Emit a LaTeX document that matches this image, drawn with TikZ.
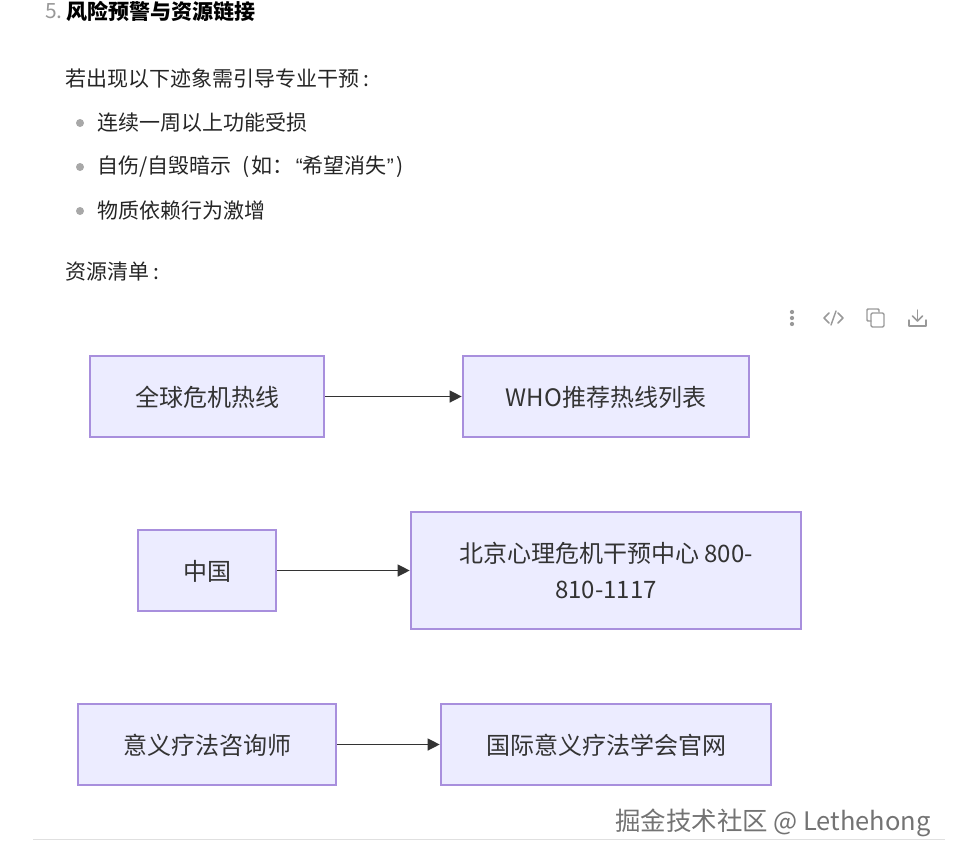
\documentclass[tikz,border=0pt]{standalone}
\usepackage{fontspec}
\usepackage{xcolor}
\usetikzlibrary{arrows.meta}
\setmainfont{Noto Sans CJK SC}
\newfontfamily\quotefont{Liberation Sans}
\newcommand{\boxtext}[1]{\raisebox{-7.2pt}[0pt][0pt]{#1}}
\definecolor{boxfill}{HTML}{ECECFF}
\definecolor{boxline}{HTML}{A88FDD}
\definecolor{arrowgray}{HTML}{333333}
\definecolor{bodygray}{HTML}{252525}
\definecolor{icongray}{HTML}{999999}
\tikzset{
    flowbox/.style={rectangle, draw=boxline, fill=boxfill, line width=1.5pt, inner sep=0pt, align=center, text=arrowgray, font=\fontsize{18}{27}\selectfont},
    flowarrow/.style={-{Triangle[length=9pt,width=9pt]}, draw=arrowgray, line width=1pt},
    bodytext/.style={anchor=west, inner sep=0pt, text=bodygray, font=\fontsize{15.75}{20}\selectfont},
    bulletdot/.style={circle, fill=icongray!85, inner sep=0pt, minimum size=6pt},
    iconline/.style={draw=icongray, line width=1.1pt, line cap=round, line join=round}
}
\begin{document}
\begin{tikzpicture}[x=0.75pt, y=-0.75pt]
    \useasboundingbox (0, 0) rectangle (953, 861);

    \node[bodytext, text=icongray] (num5) at (45, 11) {5.};
    \node[bodytext, font=\fontsize{15.75}{20}\selectfont\bfseries, text=black] (heading) at (66, 11) {风险预警与资源链接};
    \node[bodytext] (intro) at (65, 79) {若出现以下迹象需引导专业干预\hspace{3pt}:};
    \node[bulletdot] (dot1) at (80, 123) {};
    \node[bodytext] (item1) at (97, 123) {连续一周以上功能受损};
    \node[bulletdot] (dot2) at (80, 167) {};
    \node[bodytext] (item2) at (97, 167) {自伤/自毁暗示\hspace{8.5pt}(\hspace{1pt}如\char"FF1A\hspace{2pt}{\quotefont “}希望消失{\quotefont ”}\hspace{2pt})};
    \node[bulletdot] (dot3) at (80, 211) {};
    \node[bodytext] (item3) at (97, 211) {物质依赖行为激增};
    \node[bodytext] (listing) at (65, 272) {资源清单\hspace{3pt}:};

    % toolbar icons
    \foreach \y in {312, 318, 324}
        \fill[icongray] (792, \y) circle (1.6pt);
    \draw[iconline] (829, 313) -- (824, 318) -- (829, 323);
    \draw[iconline] (838, 313) -- (843, 318) -- (838, 323);
    \draw[iconline] (836, 311) -- (831, 325);
    \draw[iconline] (871, 321) -- (868, 321) -- (867, 320) -- (867, 310) -- (868, 309) -- (878, 309) -- (879, 310) -- (879, 312);
    \draw[iconline, rounded corners=1pt] (871, 313) rectangle (884, 327);
    \draw[iconline] (909, 320) -- (909, 326) -- (926, 326) -- (926, 320);
    \draw[iconline] (917.5, 310) -- (917.5, 321);
    \draw[iconline] (912.5, 316) -- (917.5, 321) -- (922.5, 316);

    \node[flowbox, minimum width=176pt, minimum height=61pt] (hotline) at (207, 396.5) {\boxtext{全球危机热线}};
    \node[flowbox, minimum width=215pt, minimum height=61pt] (wholist) at (606, 396.5) {\boxtext{WHO推荐热线列表}};
    \node[flowbox, minimum width=104pt, minimum height=61pt] (china) at (207, 570.5) {\boxtext{中国}};
    \node[flowbox, minimum width=293pt, minimum height=88pt] (beijing) at (606, 570.5) {北京心理危机干预中心 800-\\810-1117};
    \node[flowbox, minimum width=194pt, minimum height=61pt] (counselor) at (207, 744.5) {\boxtext{意义疗法咨询师}};
    \node[flowbox, minimum width=248pt, minimum height=61pt] (society) at (606, 744.5) {\boxtext{国际意义疗法学会官网}};

    \draw[flowarrow] (hotline) -- (wholist);
    \draw[flowarrow] (china) -- (beijing);
    \draw[flowarrow] (counselor) -- (society);

    \draw[draw=black!12, line width=0.75pt] (33, 839) -- (945, 839);
    \node[anchor=east, inner sep=0pt, text=black!55, font=\fontsize{19.1}{20}\selectfont] (mark) at (931, 823) {掘金技术社区 @ Lethehong};
\end{tikzpicture}
\end{document}
